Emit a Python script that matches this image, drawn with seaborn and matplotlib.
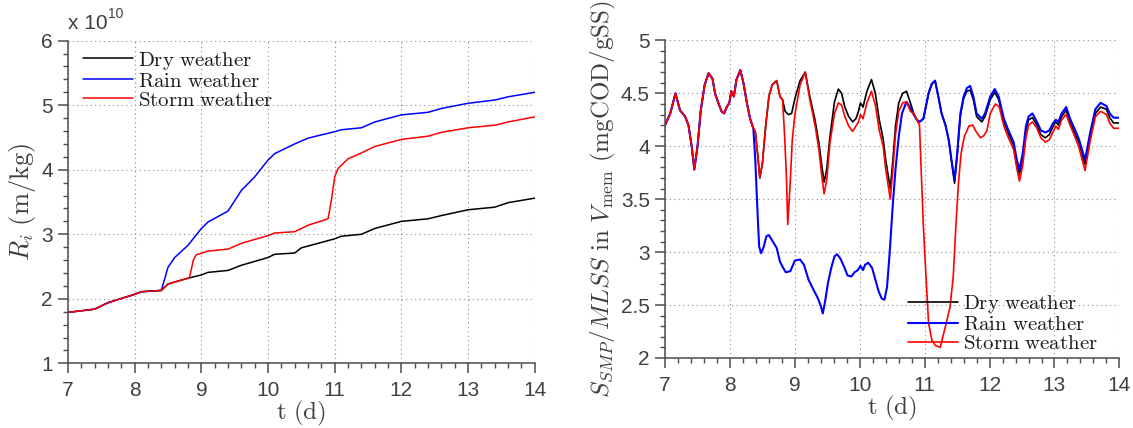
import matplotlib
matplotlib.use("Agg")
import matplotlib.pyplot as plt
from matplotlib.ticker import MultipleLocator, FormatStrFormatter
import pandas as pd
import seaborn as sns

# left panel: specific cake resistance R_i, in units of 1e10 m/kg
ri_t_common = [7.0, 7.4, 7.6, 8.0, 8.1, 8.4]
ri_common = [1.79, 1.84, 1.94, 2.07, 2.11, 2.13]

ri_t_dry = [8.5, 8.8, 9.0, 9.1, 9.4, 9.6, 10.0, 10.1, 10.4, 10.5, 11.0, 11.1,
            11.4, 11.6, 12.0, 12.4, 12.6, 13.0, 13.4, 13.6, 14.0]
ri_dry = [2.23, 2.32, 2.37, 2.41, 2.44, 2.52, 2.64, 2.69, 2.71, 2.79, 2.93, 2.97,
          3.00, 3.09, 3.20, 3.24, 3.29, 3.38, 3.42, 3.49, 3.56]

ri_t_rain = [8.5, 8.6, 8.8, 9.0, 9.1, 9.4, 9.6, 9.8, 10.0, 10.1, 10.4, 10.6,
             11.0, 11.1, 11.4, 11.6, 12.0, 12.4, 12.6, 13.0, 13.4, 13.6, 14.0]
ri_rain = [2.49, 2.64, 2.83, 3.09, 3.19, 3.36, 3.68, 3.89, 4.15, 4.25, 4.40, 4.49,
           4.59, 4.62, 4.65, 4.74, 4.85, 4.89, 4.95, 5.03, 5.08, 5.13, 5.20]

ri_t_storm = [8.5, 8.8, 8.82, 8.88, 8.92, 9.1, 9.4, 9.6, 10.0, 10.1, 10.4, 10.6,
              10.9, 10.95, 11.0, 11.05, 11.2, 11.4, 11.6, 12.0, 12.4, 12.6, 13.0,
              13.4, 13.6, 14.0]
ri_storm = [2.23, 2.32, 2.32, 2.60, 2.68, 2.74, 2.77, 2.86, 2.98, 3.02, 3.04, 3.14,
            3.24, 3.53, 3.89, 4.02, 4.17, 4.26, 4.36, 4.47, 4.52, 4.58, 4.65,
            4.69, 4.74, 4.82]

# right panel: S_SMP/MLSS in V_mem (mgCOD/gSS)
s_t_common = [7.0, 7.08, 7.16, 7.23, 7.31, 7.36, 7.41, 7.45, 7.50, 7.55, 7.61,
              7.67, 7.73, 7.77, 7.82, 7.87, 7.91, 7.95, 7.99, 8.02, 8.06, 8.10,
              8.16, 8.21, 8.26, 8.31, 8.36]
s_common = [4.20, 4.31, 4.50, 4.34, 4.28, 4.20, 4.00, 3.78, 4.00, 4.34, 4.58,
            4.69, 4.64, 4.50, 4.41, 4.33, 4.31, 4.37, 4.41, 4.52, 4.47, 4.63,
            4.72, 4.59, 4.41, 4.26, 4.17]

s_t_dry = [8.39, 8.43, 8.46, 8.50, 8.55, 8.60, 8.65, 8.72, 8.77, 8.81, 8.85, 8.90,
           8.95, 9.00, 9.08, 9.16, 9.23, 9.31, 9.37, 9.41, 9.45, 9.49, 9.54, 9.61,
           9.67, 9.72, 9.77, 9.83, 9.89, 9.94, 9.98, 10.01, 10.05, 10.11, 10.18,
           10.24, 10.30, 10.36, 10.40, 10.47, 10.51, 10.55, 10.60, 10.66, 10.72,
           10.78, 10.83, 10.88, 10.92, 10.98, 11.06, 11.11, 11.16, 11.21, 11.26,
           11.32, 11.37, 11.42, 11.46, 11.50, 11.55, 11.60, 11.65, 11.70, 11.75,
           11.80, 11.88, 11.93, 12.01, 12.08, 12.14, 12.22, 12.29, 12.37, 12.42,
           12.46, 12.51, 12.56, 12.60, 12.66, 12.73, 12.79, 12.86, 12.92, 12.98,
           13.02, 13.06, 13.11, 13.18, 13.24, 13.32, 13.38, 13.47, 13.55, 13.63,
           13.71, 13.80, 13.85, 13.91, 14.0]
s_dry = [4.14, 3.90, 3.70, 3.84, 4.19, 4.47, 4.58, 4.62, 4.47, 4.44, 4.33, 4.30,
         4.31, 4.45, 4.62, 4.70, 4.47, 4.25, 4.03, 3.84, 3.66, 3.78, 4.09, 4.42,
         4.54, 4.50, 4.37, 4.28, 4.23, 4.26, 4.33, 4.41, 4.37, 4.52, 4.63,
         4.50, 4.25, 4.07, 3.87, 3.60, 3.87, 4.19, 4.41, 4.50, 4.52,
         4.41, 4.31, 4.25, 4.23, 4.26, 4.50, 4.59, 4.62, 4.47, 4.31,
         4.20, 4.06, 3.83, 3.65, 3.91, 4.29, 4.45, 4.52, 4.53, 4.44,
         4.28, 4.23, 4.28, 4.44, 4.51, 4.44, 4.23, 4.12, 4.01, 3.82,
         3.73, 3.89, 4.15, 4.25, 4.27, 4.20, 4.11, 4.08, 4.11, 4.19,
         4.23, 4.20, 4.28, 4.34, 4.23, 4.11, 4.03, 3.83, 4.09, 4.31,
         4.37, 4.35, 4.27, 4.22, 4.22]

s_t_rain = [8.39, 8.43, 8.45, 8.48, 8.52, 8.56, 8.60, 8.65, 8.72, 8.77, 8.82, 8.86,
            8.93, 9.00, 9.08, 9.14, 9.21, 9.29, 9.35, 9.40, 9.43, 9.47, 9.51, 9.56,
            9.61, 9.65, 9.70, 9.76, 9.81, 9.87, 9.92, 9.97, 10.01, 10.05, 10.08,
            10.13, 10.19, 10.24, 10.29, 10.34, 10.38, 10.42, 10.46, 10.51, 10.55,
            10.60, 10.65, 10.72, 10.78, 10.83, 10.88, 10.92, 10.98, 11.06, 11.11,
            11.16, 11.21, 11.26, 11.32, 11.37, 11.42, 11.46, 11.50, 11.55, 11.60,
            11.65, 11.70, 11.75, 11.80, 11.88, 11.93, 12.01, 12.08, 12.14, 12.22,
            12.29, 12.37, 12.42, 12.46, 12.51, 12.56, 12.60, 12.66, 12.73, 12.79,
            12.86, 12.92, 12.98, 13.02, 13.06, 13.11, 13.18, 13.24, 13.32, 13.38,
            13.47, 13.55, 13.63, 13.71, 13.80, 13.85, 13.91, 14.0]
s_rain = [3.87, 3.30, 3.05, 2.99, 3.05, 3.15, 3.16, 3.11, 3.04, 2.91, 2.85, 2.81,
          2.82, 2.92, 2.93, 2.88, 2.74, 2.64, 2.57, 2.49, 2.42, 2.55, 2.71, 2.85,
          2.96, 2.98, 2.94, 2.86, 2.78, 2.77, 2.81, 2.83, 2.87, 2.83, 2.88,
          2.90, 2.85, 2.74, 2.63, 2.56, 2.55, 2.67, 2.99, 3.46, 3.78,
          4.09, 4.31, 4.42, 4.36, 4.30, 4.25, 4.23, 4.26, 4.50, 4.59,
          4.62, 4.47, 4.31, 4.20, 4.06, 3.84, 3.68, 3.93, 4.31, 4.47,
          4.55, 4.57, 4.47, 4.31, 4.26, 4.31, 4.47, 4.54, 4.47, 4.26,
          4.15, 4.04, 3.87, 3.78, 3.93, 4.19, 4.28, 4.31, 4.23, 4.15,
          4.13, 4.15, 4.22, 4.25, 4.23, 4.31, 4.37, 4.26, 4.15, 4.06,
          3.87, 4.13, 4.35, 4.41, 4.38, 4.31, 4.27, 4.27]

s_t_storm = [8.39, 8.43, 8.46, 8.50, 8.55, 8.60, 8.65, 8.72, 8.77, 8.81, 8.84, 8.87,
             8.89, 8.93, 8.96, 9.00, 9.08, 9.16, 9.23, 9.31, 9.37, 9.41, 9.45, 9.49,
             9.54, 9.61, 9.67, 9.72, 9.77, 9.83, 9.89, 9.94, 9.98, 10.01, 10.05,
             10.11, 10.18, 10.24, 10.30, 10.36, 10.40, 10.47, 10.51, 10.55, 10.60,
             10.66, 10.72, 10.78, 10.83, 10.88, 10.92, 10.94, 10.98, 11.02, 11.06,
             11.11, 11.16, 11.24, 11.32, 11.39, 11.44, 11.48, 11.52, 11.56, 11.61,
             11.68, 11.74, 11.79, 11.86, 11.91, 11.96, 12.01, 12.09, 12.15, 12.22,
             12.29, 12.37, 12.42, 12.46, 12.51, 12.56, 12.60, 12.66, 12.73, 12.79,
             12.86, 12.92, 12.98, 13.02, 13.06, 13.11, 13.18, 13.24, 13.32, 13.38,
             13.47, 13.55, 13.63, 13.71, 13.80, 13.85, 13.91, 14.0]
s_storm = [4.14, 3.90, 3.70, 3.84, 4.19, 4.47, 4.58, 4.62, 4.47, 4.44, 4.12, 3.71,
           3.26, 3.68, 4.06, 4.30, 4.58, 4.70, 4.44, 4.20, 3.97, 3.74, 3.55, 3.68,
           4.03, 4.31, 4.41, 4.39, 4.28, 4.19, 4.14, 4.19, 4.23, 4.30, 4.26,
           4.41, 4.52, 4.39, 4.15, 4.00, 3.78, 3.50, 3.78, 4.11, 4.33,
           4.41, 4.42, 4.33, 4.31, 4.25, 4.20, 3.87, 3.24, 2.77, 2.33,
           2.17, 2.12, 2.10, 2.30, 2.48, 2.77, 3.24, 3.65, 3.93, 4.09,
           4.19, 4.20, 4.14, 4.08, 4.10, 4.15, 4.31, 4.40, 4.37, 4.19,
           4.08, 3.97, 3.79, 3.67, 3.82, 4.08, 4.20, 4.23, 4.17, 4.08,
           4.04, 4.06, 4.14, 4.19, 4.16, 4.25, 4.30, 4.20, 4.08, 3.98,
           3.77, 4.05, 4.28, 4.33, 4.30, 4.22, 4.17, 4.17]

weathers = ["Dry weather", "Rain weather", "Storm weather"]
colors = {"Dry weather": "#000000", "Rain weather": "#0000ff", "Storm weather": "#ff0000"}


def long_form(t_common, v_common, runs):
    frames = []
    for name, (t_own, v_own) in zip(weathers, runs):
        frames.append(pd.DataFrame({"t": list(t_common) + list(t_own),
                                    "value": list(v_common) + list(v_own),
                                    "weather": name}))
    return pd.concat(frames, ignore_index=True)


ri_df = long_form(ri_t_common, ri_common,
                  [(ri_t_dry, ri_dry), (ri_t_rain, ri_rain), (ri_t_storm, ri_storm)])
s_df = long_form(s_t_common, s_common,
                 [(s_t_dry, s_dry), (s_t_rain, s_rain), (s_t_storm, s_storm)])

sns.set_style("ticks")
plt.rcParams["font.family"] = ["Liberation Sans", "DejaVu Sans"]
plt.rcParams["mathtext.fontset"] = "cm"

grey = "#404040"
fig = plt.figure(figsize=(11.33, 4.28), dpi=100)
ax1 = fig.add_axes([0.060, 0.151, 0.412, 0.754])
ax2 = fig.add_axes([0.587, 0.1636, 0.401, 0.742])


def style_axes(ax, ylim, ymajor, yminor):
    ax.set_xlim(7, 14)
    ax.set_ylim(*ylim)
    ax.xaxis.set_major_locator(MultipleLocator(1))
    ax.xaxis.set_minor_locator(MultipleLocator(0.2))
    ax.yaxis.set_major_locator(MultipleLocator(ymajor))
    ax.yaxis.set_minor_locator(MultipleLocator(yminor))
    ax.yaxis.set_major_formatter(FormatStrFormatter("%g"))
    ax.grid(True, which="major", linestyle=(0, (1, 3)), color="#8c8c8c", linewidth=0.8)
    ax.tick_params(which="major", direction="out", length=7, width=1.1,
                   color="#4d4d4d", labelsize=15, labelcolor=grey)
    ax.tick_params(axis="x", which="major", pad=6)
    ax.tick_params(axis="y", which="major", pad=4)
    ax.tick_params(which="minor", direction="out", length=3.5, width=1.0, color="#4d4d4d")
    for side in ["top", "right"]:
        ax.spines[side].set_visible(False)
    for side in ["left", "bottom"]:
        ax.spines[side].set_color("#4d4d4d")
        ax.spines[side].set_linewidth(1.1)
    ax.set_xlabel(r"$\mathrm{t\ (d)}$", fontsize=18, color=grey, labelpad=-1)


def legend_labels(ax, **kw):
    handles = ax.get_lines()[:3]
    labels = [r"$\mathrm{" + w.replace(" ", r"\ ") + "}$" for w in weathers]
    leg = ax.legend(handles, labels, frameon=False, fontsize=15, handletextpad=0.25,
                    labelspacing=0.0, borderpad=0, handlelength=2.4, **kw)
    for txt in leg.get_texts():
        txt.set_color("#1a1a1a")
    return leg


# left panel
sns.lineplot(data=ri_df, x="t", y="value", hue="weather", hue_order=weathers,
             palette=colors, estimator=None, sort=False, linewidth=1.1,
             legend=False, ax=ax1)
style_axes(ax1, (1, 6), 1, 0.2)
ax1.set_ylabel(r"$R_i\ \mathrm{(m/kg)}$", fontsize=19, color=grey, labelpad=2)
legend_labels(ax1, loc="upper left", bbox_to_anchor=(0.009, 1.004))
t1 = ax1.text(0.0, 1.025, "x 10", transform=ax1.transAxes, fontsize=15,
              color=grey, ha="left", va="bottom")
ax1.annotate("10", xy=(1.0, 0.6), xycoords=t1, fontsize=10, color=grey,
             ha="left", va="bottom")

# right panel
sns.lineplot(data=s_df, x="t", y="value", hue="weather", hue_order=weathers,
             palette=colors, estimator=None, sort=False, linewidth=1.2,
             legend=False, ax=ax2)
ax2.get_lines()[1].set_linewidth(1.5)
style_axes(ax2, (2, 5), 0.5, 0.1)
ax2.set_ylabel(r"$S_{SMP}/MLSS\ \mathrm{in}\ V_{\mathrm{mem}}\ \mathrm{(mgCOD/gSS)}$",
               fontsize=18, color=grey, labelpad=2)
legend_labels(ax2, loc="lower right", bbox_to_anchor=(0.975, -0.018))

fig.savefig("out.png", dpi=100)
